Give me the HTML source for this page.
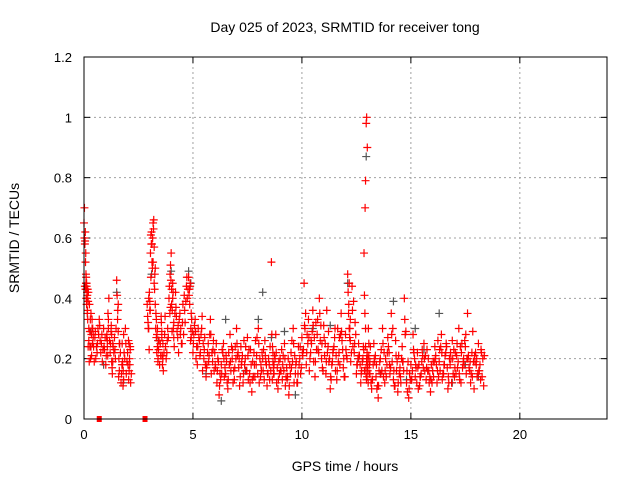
<!DOCTYPE html>
<html><head><meta charset="utf-8"><style>
body{margin:0;background:#fff}
svg text{font-family:"Liberation Sans",sans-serif;font-size:13px;fill:#000}
</style></head><body>
<svg id="chart" width="640" height="480" xmlns="http://www.w3.org/2000/svg">
<text x="345" y="32" text-anchor="middle" style="font-size:14px">Day 025 of 2023, SRMTID for receiver tong</text>
<text x="345" y="471" text-anchor="middle" style="font-size:14px">GPS time / hours</text>
<text transform="translate(19,238) rotate(-90)" text-anchor="middle" style="font-size:14px">SRMTID / TECUs</text>
<g id="grid"></g>
<g id="ticks"></g>
<g id="marks"></g>
<rect x="84" y="57" width="523" height="362" fill="none" stroke="#000" stroke-width="1"/>
</svg>
<script>
const xTicks=[0,5,10,15,20];
const yTicks=[0,0.2,0.4,0.6,0.8,1,1.2];
const yTickLabels=["0","0.2","0.4","0.6","0.8","1","1.2"];
const redTimes=[0,0.02,0.05,0.08,0.1,0.12,0.15,0.2,0.25,0.3,0.35,0.4,0.5,0.6,0.7,0.8,0.9,1.0,1.05,1.1,1.2,1.25,1.3,1.4,1.5,1.55,1.6,1.7,1.75,1.8,1.9,2.0,2.05,2.1,2.9,2.95,3.0,3.05,3.1,3.15,3.2,3.25,3.3,3.35,3.4,3.5,3.55,3.6,3.7,3.8,3.9,3.95,4.0,4.05,4.1,4.2,4.3,4.4,4.5,4.6,4.7,4.8,4.85,4.9,5.0,5.1,5.2,5.3,5.4,5.5,5.6,5.7,5.8,5.9,6.0,6.1,6.2,6.3,6.4,6.5,6.6,6.7,6.8,6.9,7.0,7.1,7.2,7.3,7.4,7.5,7.6,7.7,7.8,7.9,8.0,8.1,8.2,8.3,8.4,8.5,8.6,8.65,8.7,8.8,8.9,9.0,9.1,9.2,9.3,9.4,9.5,9.6,9.7,9.8,9.9,10.0,10.1,10.2,10.3,10.4,10.5,10.6,10.7,10.8,10.9,11.0,11.1,11.2,11.3,11.4,11.5,11.6,11.7,11.8,11.9,12.0,12.1,12.15,12.2,12.3,12.4,12.5,12.6,12.7,12.8,12.85,12.9,12.92,12.95,12.97,13.0,13.05,13.1,13.2,13.3,13.4,13.5,13.6,13.7,13.8,13.9,14.0,14.1,14.2,14.3,14.4,14.5,14.6,14.7,14.8,14.9,15.0,15.1,15.2,15.3,15.4,15.5,15.6,15.7,15.8,15.9,16.0,16.1,16.2,16.3,16.4,16.5,16.6,16.7,16.8,16.9,17.0,17.1,17.2,17.3,17.4,17.5,17.6,17.7,17.8,17.9,18.0,18.1,18.2,18.3];
const redValues=[.65,.70,.59,.55,.47,.44,.41,.42,.38,.20,.21,.30,.27,.22,.33,.25,.30,.18,.28,.35,.22,.31,.15,.27,.46,.36,.20,.12,.25,.16,.30,.22,.13,.18,.38,.30,.42,.55,.62,.60,.66,.48,.35,.28,.20,.25,.32,.18,.28,.22,.40,.48,.55,.36,.30,.42,.27,.35,.25,.41,.44,.47,.38,.30,.22,.33,.18,.26,.30,.20,.14,.25,.33,.19,.22,.12,.08,.18,.25,.15,.10,.28,.20,.13,.30,.17,.24,.12,.20,.27,.15,.09,.22,.18,.30,.14,.20,.26,.11,.18,.52,.24,.15,.28,.10,.20,.13,.25,.17,.08,.22,.30,.15,.12,.20,.27,.45,.18,.33,.22,.36,.14,.28,.40,.20,.31,.15,.24,.10,.19,.27,.13,.22,.35,.17,.28,.48,.38,.30,.44,.22,.15,.25,.12,.20,.55,.70,.79,.98,1.0,.90,.30,.18,.10,.25,.14,.07,.20,.30,.12,.18,.22,.35,.13,.26,.09,.17,.24,.40,.12,.07,.18,.28,.14,.22,.11,.19,.25,.13,.20,.09,.16,.24,.12,.19,.28,.15,.22,.10,.18,.26,.14,.21,.30,.12,.19,.24,.35,.16,.22,.10,.18,.25,.13,.20];
const redValuesB=[.58,.62,.45,.43,.40,.36,.24,.19,.33,.28,.25,.24,.20,.30,.26,.19,.23,.27,.21,.40,.29,.17,.24,.20,.33,.14,.25,.18,.11,.22,.15,.26,.20,.12,.32,.23,.36,.58,.50,.63,.43,.30,.22,.19,.26,.34,.21,.16,.24,.30,.35,.46,.29,.42,.24,.34,.22,.30,.38,.32,.40,.43,.26,.33,.28,.20,.30,.22,.16,.27,.18,.21,.15,.26,.17,.20,.15,.23,.14,.19,.22,.16,.12,.24,.21,.11,.19,.26,.16,.13,.23,.19,.14,.27,.12,.16,.23,.19,.15,.24,.13,.17,.21,.12,.19,.16,.21,.11,.14,.18,.26,.12,.19,.24,.15,.21,.30,.28,.16,.25,.19,.32,.23,.26,.17,.21,.36,.19,.13,.23,.16,.30,.18,.26,.14,.21,.35,.27,.19,.24,.32,.18,.21,.16,.23,.35,.15,.13,.21,.17,.12,.15,.24,.13,.19,.10,.16,.23,.14,.20,.27,.15,.19,.11,.16,.21,.12,.19,.28,.09,.15,.13,.22,.17,.10,.14,.21,.16,.23,.12,.18,.14,.21,.26,.16,.13,.18,.24,.12,.20,.15,.22,.17,.13,.25,.18,.15,.21,.12,.29,.19,.14,.16,.22,.11,.17];
const redValuesC=[.60,.44,.43,.40,.45,.42,.33,.26,.29,.24,.33,.27,.29,.25,.31,.28,.24,.21,.26,.30,.25,.28,.19,.23,.41,.29,.16,.15,.19,.13,.25,.18,.16,.24,.34,.40,.39,.61,.58,.52,.45,.38,.27,.24,.23,.21,.27,.20,.34,.26,.44,.51,.38,.40,.27,.37,.31,.28,.32,.36,.47,.41,.44,.27,.25,.29,.24,.21,.34,.23,.17,.19,.28,.23,.18,.16,.11,.15,.20,.21,.13,.19,.23,.17,.25,.20,.18,.15,.24,.21,.12,.13,.18,.21,.25,.18,.16,.21,.15,.13,.28,.19,.18,.22,.13,.16,.18,.20,.13,.11,.17,.25,.18,.15,.24,.22,.31,.22,.27,.26,.31,.19,.33,.35,.25,.27,.19,.29,.14,.22,.30,.16,.27,.29,.20,.23,.42,.30,.26,.36,.25,.18,.21,.15,.24,.41,.24,.17,.19,.14,.18,.21,.15,.13,.20,.18,.11,.15,.25,.16,.22,.18,.28,.16,.21,.12,.14,.19,.33,.16,.10,.13,.23,.18,.17,.14,.23,.20,.17,.16,.13,.19,.20,.16,.23,.22,.18,.25,.14,.22,.20,.17,.25,.15,.22,.20,.28,.20,.19,.14,.21,.20,.16,.23];
const redValuesD=[.52,.48,.38,.35,.43,.39,.30,.24,.35,.30,.28,.19,.24,.28,.22,.23,.27,.24,.33,.26,.19,.25,.22,.30,.38,.25,.22,.18,.28,.20,.19,.25,.23,.15,.30,.36,.47,.52,.65,.57,.50,.33,.30,.26,.18,.29,.25,.22,.20,.27,.37,.43,.45,.32,.35,.29,.33,.25,.28,.39,.43,.45,.35,.29,.31,.24,.27,.28,.25,.18,.22,.28,.22,.16,.25,.19,.13,.22,.17,.12,.18,.24,.16,.20,.22,.14,.21,.18,.16,.23,.18,.14,.26,.15,.20,.22,.13,.18,.20,.16,.22,.15,.20,.17,.15,.23,.16,.14,.20,.15,.19,.21,.12,.18,.17,.23,.35,.25,.20,.29,.27,.23,.22,.31,.16,.25,.22,.20,.18,.24,.21,.19,.28,.23,.14,.20,.45,.33,.22,.39,.28,.20,.18,.19,.16,.30,.20,.22,.16,.20,.25,.19,.12,.18,.21,.11,.19,.16,.22,.14,.24,.17,.30,.11,.19,.15,.20,.16,.29,.19,.13,.16,.20,.12,.18,.15,.17,.21,.16,.14,.12,.19,.18,.14,.24,.15,.21,.17,.20,.12,.23,.15,.19,.24,.17,.26,.20,.17,.15,.19,.22,.15,.18,.14,.21,.16];
const greyTimes=[0.1,0.3,0.9,1.5,1.8,3.1,3.4,4.0,4.8,4.9,5.6,6.3,6.5,7.4,8.0,8.2,8.6,9.2,9.7,10.5,11.3,12.1,12.6,12.95,13.6,14.2,14.8,15.2,15.6,16.3,16.9,17.5,18.1];
const greyValues=[.45,.29,.18,.42,.12,.48,.26,.49,.49,.45,.15,.06,.33,.16,.33,.42,.27,.29,.08,.30,.31,.45,.20,.87,.15,.39,.13,.30,.23,.35,.12,.18,.14];
const zeroTimes=[0.7,2.8];

const X0=84,X1=607,Y0=419,Y1=57;
const xs=t=>X0+(t/24)*(X1-X0);
const ys=v=>Y0-(v/1.2)*(Y0-Y1);
const NS="http://www.w3.org/2000/svg";
function mk(tag,attrs,parent){const e=document.createElementNS(NS,tag);for(const k in attrs)e.setAttribute(k,attrs[k]);parent.appendChild(e);return e;}
const grid=document.getElementById('grid'),ticks=document.getElementById('ticks'),marks=document.getElementById('marks');
xTicks.forEach(t=>{
  const x=xs(t);
  if(t>0){const g=mk('line',{x1:x,x2:x,y1:Y0,y2:Y1,stroke:'#a0a0a0','stroke-dasharray':'2,3'},grid);
  
  }
  mk('line',{x1:x,x2:x,y1:Y0,y2:Y0-6,stroke:'#000'},ticks);
  mk('line',{x1:x,x2:x,y1:Y1,y2:Y1+6,stroke:'#000'},ticks);
  const l=mk('text',{x:x,y:Y0+20,'text-anchor':'middle'},ticks);l.textContent=t;
  
  
});
yTicks.forEach((v,i)=>{
  const y=ys(v);
  if(v>0&&v<1.2){const g=mk('line',{x1:X0,x2:X1,y1:y,y2:y,stroke:'#a0a0a0','stroke-dasharray':'2,3'},grid);
  
  }
  mk('line',{x1:X0,x2:X0+6,y1:y,y2:y,stroke:'#000'},ticks);
  mk('line',{x1:X1,x2:X1-6,y1:y,y2:y,stroke:'#000'},ticks);
  const l=mk('text',{x:X0-12,y:y+5,'text-anchor':'end'},ticks);l.textContent=yTickLabels[i];
  
  
});
function plus(t,v,color,name){
  if(v===undefined||isNaN(v))return;
  const x=xs(t),y=ys(v);
  const p=mk('path',{d:`M${x-4},${y}H${x+4}M${x},${y-4}V${y+4}`,stroke:color,'stroke-width':1.2,fill:'none'},marks);
  
  
}
greyTimes.forEach((t,i)=>plus(t,greyValues[i],'#555','grey-point'));
redTimes.forEach((t,i)=>{
  plus(t,redValues[i],'#ff0000','red-point');
  plus(t+0.04,redValuesB[i],'#ff0000','red-point');
  plus(t+0.02,redValuesC[i],'#ff0000','red-point');
  plus(t+0.07,redValuesD[i],'#ff0000','red-point');
});
zeroTimes.forEach(t=>{
  const r=mk('rect',{x:xs(t)-2.5,y:Y0-3,width:5,height:6,fill:'#ff0000'},marks);
  
  
});
</script>
</body></html>
